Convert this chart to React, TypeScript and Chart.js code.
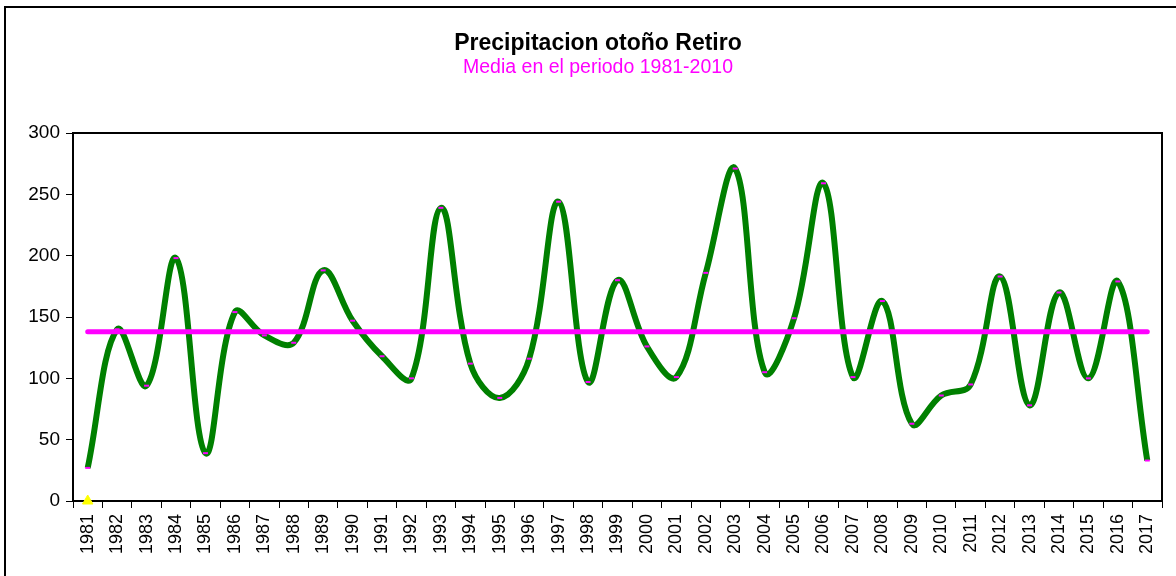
import React, { useEffect, useRef } from "react";
import { Chart, registerables } from "chart.js";

Chart.register(...registerables);

const years: string[] = [
  "1981", "1982", "1983", "1984", "1985", "1986", "1987", "1988", "1989", "1990",
  "1991", "1992", "1993", "1994", "1995", "1996", "1997", "1998", "1999", "2000",
  "2001", "2002", "2003", "2004", "2005", "2006", "2007", "2008", "2009", "2010",
  "2011", "2012", "2013", "2014", "2015", "2016", "2017",
];

const precipitation: number[] = [
  27, 140, 94, 198, 39, 154, 135, 129, 188, 147,
  118, 100, 239, 112, 84, 116, 244, 97, 180, 126,
  101, 186, 271, 105, 149, 259, 101, 163, 63, 86,
  95, 183, 78, 170, 100, 179, 33,
];

const meanValue = 138;
const meanSeries: number[] = years.map(() => meanValue);
const markerSeries: (number | null)[] = years.map((_, i) => (i === 0 ? 0 : null));

const yTicks: number[] = [0, 50, 100, 150, 200, 250, 300];

const titleText = "Precipitacion otoño Retiro";
const subtitleText = "Media en el periodo 1981-2010";

const FONT = "'Liberation Sans', Arial, sans-serif";

const framePlugin = {
  id: "framePlugin",
  beforeDraw(chart: any) {
    const ctx = chart.ctx;
    ctx.save();
    ctx.fillStyle = "#ffffff";
    ctx.fillRect(0, 0, chart.width, chart.height);
    ctx.strokeStyle = "#000000";
    ctx.lineWidth = 2;
    ctx.beginPath();
    ctx.moveTo(5, chart.height + 5);
    ctx.lineTo(5, 7);
    ctx.lineTo(chart.width + 5, 7);
    ctx.stroke();
    ctx.restore();
  },
  afterDatasetsDraw(chart: any) {
    const ctx = chart.ctx;
    const a = chart.chartArea;
    ctx.save();
    ctx.strokeStyle = "#000000";
    ctx.lineWidth = 2;
    ctx.beginPath();
    ctx.moveTo(a.left, a.top);
    ctx.lineTo(a.right, a.top);
    ctx.lineTo(a.right, a.bottom);
    ctx.stroke();
    ctx.restore();
  },
  afterDraw(chart: any) {
    const ctx = chart.ctx;
    ctx.save();
    ctx.textAlign = "center";
    ctx.textBaseline = "middle";
    ctx.fillStyle = "#000000";
    ctx.font = `bold 23px ${FONT}`;
    ctx.fillText(titleText, 598, 44);
    ctx.fillStyle = "#FF00FF";
    ctx.font = `19.5px ${FONT}`;
    ctx.fillText(subtitleText, 598, 68);
    ctx.restore();
  },
};

export default function App() {
  const canvasRef = useRef<HTMLCanvasElement | null>(null);

  useEffect(() => {
    if (!canvasRef.current) return;
    const chart = new Chart(canvasRef.current, {
      type: "line",
      data: {
        labels: years,
        datasets: [
          {
            label: "marker",
            data: markerSeries,
            showLine: false,
            pointStyle: "triangle",
            pointRadius: 6,
            pointBackgroundColor: "#FFFF00",
            pointBorderColor: "#FFFF00",
            pointBorderWidth: 1,
            clip: false,
            order: 0,
          },
          {
            label: "Media",
            data: meanSeries,
            borderColor: "#FF00FF",
            borderWidth: 5,
            pointRadius: 0,
            tension: 0,
            borderCapStyle: "round",
            order: 1,
          },
          {
            label: "Precipitacion",
            data: precipitation,
            borderColor: "#008000",
            borderWidth: 6,
            tension: 0.38,
            pointStyle: "line",
            pointRadius: 2.5,
            pointBorderColor: "#FF00FF",
            pointBackgroundColor: "#FF00FF",
            pointBorderWidth: 2,
            order: 2,
          },
        ],
      },
      options: {
        responsive: false,
        animation: false,
        layout: { padding: { top: 133, left: 0, right: 14, bottom: 0 } },
        plugins: {
          legend: { display: false },
          tooltip: { enabled: false },
          title: { display: false },
        },
        scales: {
          x: {
            type: "category",
            offset: true,
            grid: {
              offset: true,
              drawOnChartArea: false,
              drawTicks: true,
              tickLength: 7,
              tickColor: "#000000",
              tickWidth: 1,
            },
            border: { color: "#000000", width: 2 },
            ticks: {
              minRotation: 90,
              maxRotation: 90,
              autoSkip: false,
              padding: 6,
              color: "#000000",
              font: { family: FONT, size: 18 },
            },
            afterFit(scale: any) {
              scale.height = 75;
            },
          },
          y: {
            min: 0,
            max: 300,
            afterBuildTicks(scale: any) {
              scale.ticks = yTicks.map((v) => ({ value: v }));
            },
            grid: {
              drawOnChartArea: false,
              drawTicks: true,
              tickLength: 7,
              tickColor: "#000000",
              tickWidth: 1,
            },
            border: { color: "#000000", width: 2 },
            ticks: {
              padding: 6,
              color: "#000000",
              font: { family: FONT, size: 19 },
            },
            afterFit(scale: any) {
              scale.width = 73;
            },
          },
        },
      },
      plugins: [framePlugin],
    });
    return () => chart.destroy();
  }, []);

  return (
    <div style={{ position: "fixed", left: 0, top: 0, width: 1176, height: 576, overflow: "hidden" }}>
      <canvas ref={canvasRef} width={1176} height={576} style={{ display: "block" }} />
    </div>
  );
}
